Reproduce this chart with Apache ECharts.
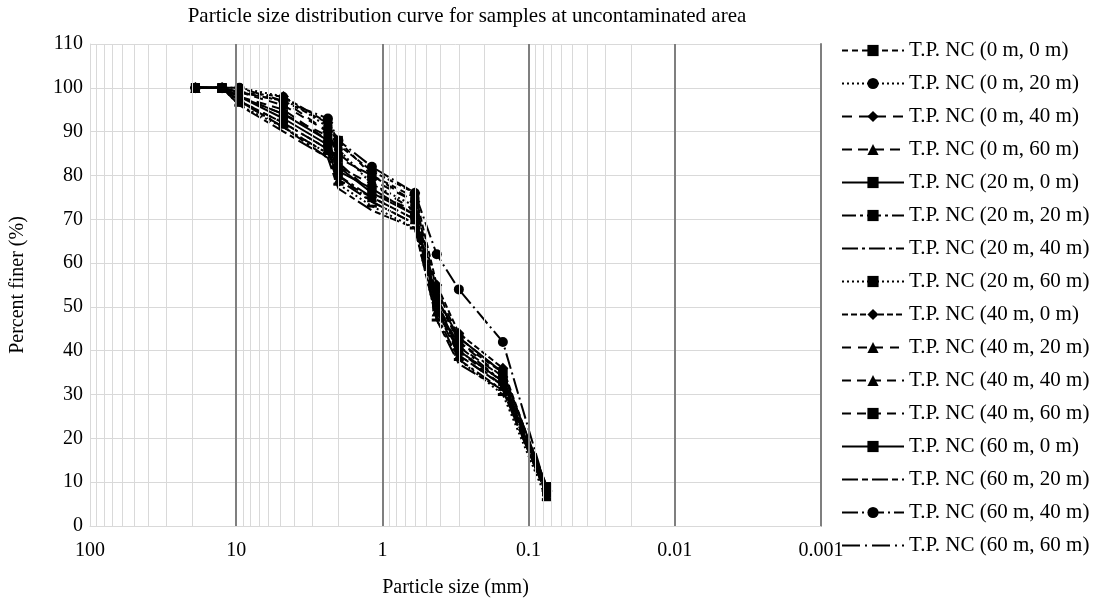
<!DOCTYPE html>
<html>
<head>
<meta charset="utf-8">
<script src="https://cdn.jsdelivr.net/npm/echarts@6/dist/echarts.min.js"></script>
<style>
    html, body { margin: 0; padding: 0; background: #fff; }
    #chart { width: 1105px; height: 603px; }
</style>
</head>
<body>
<div id="chart"></div>
<script>
// sieve sizes (mm)
const sizes = [19, 12.5, 9.5, 4.75, 2.36, 2.0, 1.18, 0.6, 0.425, 0.3, 0.15, 0.075]

const seriesNames = [
    'T.P. NC (0 m, 0 m)', 'T.P. NC (0 m, 20 m)', 'T.P. NC (0 m, 40 m)', 'T.P. NC (0 m, 60 m)',
    'T.P. NC (20 m, 0 m)', 'T.P. NC (20 m, 20 m)', 'T.P. NC (20 m, 40 m)', 'T.P. NC (20 m, 60 m)',
    'T.P. NC (40 m, 0 m)', 'T.P. NC (40 m, 20 m)', 'T.P. NC (40 m, 40 m)', 'T.P. NC (40 m, 60 m)',
    'T.P. NC (60 m, 0 m)', 'T.P. NC (60 m, 20 m)', 'T.P. NC (60 m, 40 m)', 'T.P. NC (60 m, 60 m)'
]

// percent finer for each sample
const nc_0_0 = [100, 100, 99, 97, 92, 88, 80, 75, 52, 42, 35, 8]
const nc_0_20 = [100, 100, 100, 98, 91, 86, 78, 73, 50, 40, 33, 7]
const nc_0_40 = [100, 100, 99, 97, 90, 85, 79, 74, 51, 41, 34, 8]
const nc_0_60 = [100, 100, 98, 95, 88, 83, 76, 72, 49, 39, 32, 7]
const nc_20_0 = [100, 100, 98, 93, 87, 81, 77, 71, 52, 43, 35, 9]
const nc_20_20 = [100, 100, 97, 92, 86, 80, 75, 70, 50, 41, 33, 8]
const nc_20_40 = [100, 100, 97, 91, 84, 79, 74, 69, 48, 38, 31, 7]
const nc_20_60 = [100, 100, 96, 91, 85, 78, 73, 68, 47, 38, 30, 6]
const nc_40_0 = [100, 100, 99, 98, 92, 87, 81, 76, 55, 44, 36, 8]
const nc_40_20 = [100, 100, 98, 94, 89, 82, 78, 72, 53, 42, 34, 7]
const nc_40_40 = [100, 100, 97, 92, 86, 79, 75, 70, 49, 40, 32, 8]
const nc_40_60 = [100, 100, 99, 96, 90, 84, 80, 74, 54, 43, 35, 9]
const nc_60_0 = [100, 100, 98, 94, 88, 82, 76, 71, 51, 40, 33, 8]
const nc_60_20 = [100, 100, 96, 90, 84, 77, 72, 68, 47, 37, 31, 7]
const nc_60_40 = [100, 100, 100, 97, 93, 88, 82, 76, 62, 54, 42, 8]
const nc_60_60 = [100, 100, 97, 91, 85, 80, 74, 69, 50, 39, 32, 7]

const allValues = [nc_0_0, nc_0_20, nc_0_40, nc_0_60, nc_20_0, nc_20_20, nc_20_40, nc_20_60,
    nc_40_0, nc_40_20, nc_40_40, nc_40_60, nc_60_0, nc_60_20, nc_60_40, nc_60_60]

const yTicks = [0, 110, 10] // min, max, step

const FONT = 'Liberation Serif'

// line + marker look of each series (same order as names)
const looks = [
    { dash: [6, 4], symbol: 'rect', size: 9 },
    { dash: [2, 3], symbol: 'circle', size: 9 },
    { dash: [10, 7], symbol: 'diamond', size: 11 },
    { dash: [10, 6], symbol: 'triangle', size: 10 },
    { dash: 'solid', symbol: 'rect', size: 9 },
    { dash: [14, 4, 3, 4], symbol: 'rect', size: 9 },
    { dash: [16, 4, 3, 4], symbol: 'none', size: 0 },
    { dash: [2, 3], symbol: 'rect', size: [10, 3] },
    { dash: [6, 3], symbol: 'diamond', size: 11 },
    { dash: [9, 7], symbol: 'triangle', size: 10 },
    { dash: [9, 6], symbol: 'triangle', size: 10 },
    { dash: [9, 6], symbol: 'rect', size: 9 },
    { dash: 'solid', symbol: 'rect', size: 9 },
    { dash: [16, 4, 6, 4], symbol: 'none', size: 0 },
    { dash: [16, 4, 2, 4], symbol: 'circle', size: 10 },
    { dash: [18, 5, 2, 5], symbol: 'none', size: 0 }
]

// vertical grid lines of the log axis
const decades = [0.001, 0.01, 0.1, 1, 10]
const minorLines = []
decades.forEach(d => {
    for (let k = 2; k <= 9; k++) minorLines.push({ xAxis: +(d * k).toPrecision(3) })
})
const majorLines = [10, 1, 0.1, 0.01].map(v => ({ xAxis: v }))

const series = allValues.map((vals, i) => {
    const lk = looks[i]
    return {
        name: seriesNames[i],
        type: 'line',
        z: 3,
        data: sizes.map((s, j) => [s, vals[j]]),
        symbol: lk.symbol,
        symbolSize: lk.size,
        itemStyle: { color: '#000' },
        lineStyle: { color: '#000', width: 2, type: lk.dash }
    }
})

series.push({
    name: 'grid',
    type: 'line',
    data: [],
    z: 1,
    silent: true,
    markLine: {
        silent: true,
        symbol: ['none', 'none'],
        label: { show: false },
        animation: false,
        data: minorLines.map(m => Object.assign({}, m, { lineStyle: { color: '#d9d9d9', width: 1, type: 'solid' } }))
            .concat(majorLines.map(m => Object.assign({}, m, { lineStyle: { color: '#7f7f7f', width: 2, type: 'solid' } })))
    }
})

// legend entries: hide the marker for series drawn without points
const legendData = seriesNames.map((n, i) => looks[i].symbol === 'none'
    ? { name: n, itemStyle: { color: 'rgba(0,0,0,0)', borderColor: 'rgba(0,0,0,0)', borderWidth: 0 } }
    : { name: n })

const option = {
    animation: false,
    backgroundColor: '#fff',
    title: {
        text: 'Particle size distribution curve for samples at uncontaminated area',
        left: 462,
        top: 1,
        textAlign: 'center',
        textStyle: { fontFamily: FONT, fontSize: 21, fontWeight: 'normal', color: '#000' }
    },
    legend: {
        data: legendData,
        orient: 'vertical',
        left: 836,
        top: 35,
        itemWidth: 62,
        itemHeight: 14,
        itemGap: 12,
        textStyle: { fontFamily: FONT, fontSize: 21, color: '#000', height: 21, lineHeight: 21 }
    },
    grid: { left: 90, right: 284, top: 44, bottom: 71 },
    xAxis: {
        type: 'log',
        logBase: 10,
        min: 0.001,
        max: 100,
        inverse: true,
        name: 'Particle size (mm)',
        nameLocation: 'middle',
        nameGap: 52,
        nameTextStyle: { fontFamily: FONT, fontSize: 20, color: '#000' },
        axisLine: { lineStyle: { color: '#d9d9d9' } },
        axisTick: { show: false },
        axisLabel: {
            fontFamily: FONT, fontSize: 20, color: '#000', margin: 15,
            formatter: v => String(parseFloat(Number(v).toPrecision(1)))
        },
        splitLine: { show: false }
    },
    yAxis: [{
        type: 'value',
        min: yTicks[0],
        max: yTicks[1],
        interval: yTicks[2],
        name: 'Percent finer (%)',
        nameLocation: 'middle',
        nameGap: 62,
        nameRotate: 90,
        nameTextStyle: { fontFamily: FONT, fontSize: 20, color: '#000' },
        axisLine: { show: true, lineStyle: { color: '#d9d9d9' } },
        axisTick: { show: false },
        axisLabel: { fontFamily: FONT, fontSize: 20, color: '#000', margin: 7 },
        splitLine: { lineStyle: { color: '#d9d9d9', width: 1 } }
    }, {
        // right edge of the plot (0.001 decade line)
        type: 'value',
        position: 'right',
        min: yTicks[0],
        max: yTicks[1],
        interval: yTicks[2],
        axisLine: { show: true, lineStyle: { color: '#7f7f7f', width: 2 } },
        axisTick: { show: false },
        axisLabel: { show: false },
        splitLine: { show: false }
    }],
    series: series
}

const chart = echarts.init(document.getElementById('chart'))
chart.setOption(option)
</script>
</body>
</html>
